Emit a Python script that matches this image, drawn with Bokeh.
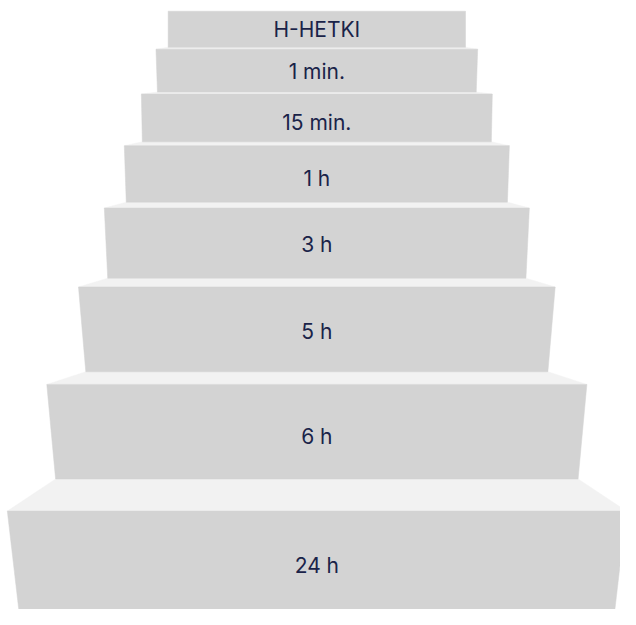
from bokeh.plotting import figure
from bokeh.models import Range1d, ColumnDataSource
from bokeh.embed import file_html
from bokeh.resources import INLINE
from bokeh.core.properties import value

# Steps from top to bottom
labels = ["H-HETKI", "1 min.", "15 min.", "1 h", "3 h", "5 h", "6 h", "24 h"]
front_top = [11, 50, 96, 149, 213, 294, 394, 524]
front_bottom = [48, 94, 145, 207, 285, 381, 491, 640]
half_top = [152.5, 165, 180, 197.5, 218, 244.5, 277, 317.5]
half_bottom = [152.5, 163.5, 179, 195.5, 214.5, 237, 268, 304]
label_y = [30, 73, 125, 183, 250, 340, 447, 580]

CX = 324.5
W, H = 620, 609
FRONT = "#d3d3d3"
TREAD = "#f2f2f2"
TEXT = "#1a2349"

p = figure(width=W, height=H, output_backend="svg", toolbar_location=None,
           x_range=Range1d(0 - CX, 636 - CX), y_range=Range1d(625, 0),
           min_border=0)
p.axis.visible = False
p.grid.visible = False
p.outline_line_color = None
p.background_fill_color = "white"
p.border_fill_color = "white"

# treads (top faces)
txs, tys = [], []
for k in range(1, len(labels)):
    hb = half_bottom[k - 1]
    yb = front_bottom[k - 1]
    ht = half_top[k]
    yt = front_top[k]
    txs.append([-hb, hb, ht, -ht])
    tys.append([yb, yb, yt, yt])
p.patches(txs, tys, fill_color=TREAD, line_color=TREAD, line_width=0.5)

# risers (front faces)
fxs, fys = [], []
for k in range(len(labels)):
    fxs.append([-half_top[k], half_top[k], half_bottom[k], -half_bottom[k]])
    fys.append([front_top[k], front_top[k], front_bottom[k], front_bottom[k]])
p.patches(fxs, fys, fill_color=FRONT, line_color=FRONT, line_width=0.5)

src = ColumnDataSource(dict(x=[0] * len(labels), y=label_y, t=labels))
p.text(x="x", y="y", text="t", source=src, text_align="center",
       text_baseline="middle", text_color=TEXT,
       text_font=value("Inter"), text_font_size="21px")

open("out.html", "w").write(file_html(p, INLINE))
